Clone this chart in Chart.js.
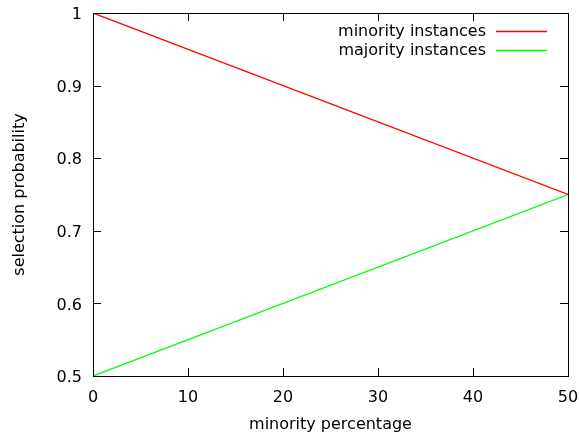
<!DOCTYPE html>
<html>
<head>
<meta charset="utf-8">
<script src="https://cdn.jsdelivr.net/npm/chart.js@4"></script>
<style>
  html, body { margin: 0; padding: 0; background: #fff; }
  #wrap { width: 580px; height: 437px; position: relative; }
</style>
</head>
<body>
<div id="wrap"><canvas id="chart"></canvas></div>
<script>
// values
var percentages = [0, 50];
var minority = [1, 0.75];
var majority = [0.5, 0.75];
var seriesNames = ['minority instances', 'majority instances'];
var seriesColors = ['#ff0000', '#00ff00'];
var xTicks = [0, 10, 20, 30, 40, 50];
var yTicks = [0.5, 0.6, 0.7, 0.8, 0.9, 1];

var FONT = 'DejaVu Sans';
var FS = 16;

function points(ys) {
    return percentages.map(function(x, i) { return {x: x, y: ys[i]}; });
}

// gnuplot-like frame: box plus inward ticks on all four sides, legend at top right
var framePlugin = {
    id: 'frame',
    afterDraw: function(chart) {
        var ctx = chart.ctx;
        var a = chart.chartArea;
        var xs = chart.scales.x, ys = chart.scales.y;
        var L = 8;
        ctx.save();
        ctx.strokeStyle = '#000';
        ctx.lineWidth = 1;
        ctx.beginPath();
        xTicks.forEach(function(t) {
            var px = Math.round(xs.getPixelForValue(t)) + 0.5;
            ctx.moveTo(px, a.bottom); ctx.lineTo(px, a.bottom - L);
            ctx.moveTo(px, a.top); ctx.lineTo(px, a.top + L);
        });
        yTicks.forEach(function(t) {
            var py = Math.round(ys.getPixelForValue(t)) + 0.5;
            ctx.moveTo(a.left, py); ctx.lineTo(a.left + L, py);
            ctx.moveTo(a.right, py); ctx.lineTo(a.right - L, py);
        });
        ctx.stroke();
        ctx.strokeRect(Math.round(a.left) + 0.5, Math.round(a.top) + 0.5,
                       Math.round(a.right - a.left), Math.round(a.bottom - a.top));

        // legend
        ctx.font = FS + 'px "' + FONT + '"';
        ctx.textAlign = 'right';
        ctx.textBaseline = 'middle';
        chart.data.datasets.forEach(function(ds, i) {
            var y = 31 + i * 19;
            ctx.fillStyle = '#000';
            ctx.fillText(ds.label, 486, y + 1);
            ctx.strokeStyle = ds.borderColor;
            ctx.lineWidth = 1.5;
            ctx.beginPath();
            ctx.moveTo(496, y + 0.5);
            ctx.lineTo(547, y + 0.5);
            ctx.stroke();
        });
        ctx.restore();
    }
};

new Chart(document.getElementById('chart'), {
    type: 'line',
    data: {
        datasets: [
            { label: seriesNames[0], data: points(minority), borderColor: seriesColors[0],
              borderWidth: 1.3, pointRadius: 0, fill: false, tension: 0 },
            { label: seriesNames[1], data: points(majority), borderColor: seriesColors[1],
              borderWidth: 1.3, pointRadius: 0, fill: false, tension: 0 }
        ]
    },
    options: {
        responsive: true,
        maintainAspectRatio: false,
        animation: false,
        layout: { padding: { top: 13, right: 12, left: 0, bottom: 0 } },
        plugins: { legend: { display: false }, tooltip: { enabled: false } },
        scales: {
            x: {
                type: 'linear',
                min: 0, max: 50,
                afterFit: function(s) { s.height = 61; s.paddingLeft = 0; s.paddingRight = 0; },
                afterBuildTicks: function(s) { s.ticks = xTicks.map(function(v) { return {value: v}; }); },
                grid: { display: false, drawTicks: false },
                border: { display: false },
                ticks: { color: '#000', padding: 12, maxRotation: 0,
                         font: { family: FONT, size: FS } },
                title: { display: true, text: 'minority percentage', color: '#000',
                         font: { family: FONT, size: FS }, padding: { top: 0, bottom: 3 } }
            },
            y: {
                type: 'linear',
                min: 0.5, max: 1,
                afterFit: function(s) { s.width = 93; s.paddingTop = 0; s.paddingBottom = 0; },
                afterBuildTicks: function(s) { s.ticks = yTicks.map(function(v) { return {value: v}; }); },
                grid: { display: false, drawTicks: false },
                border: { display: false },
                ticks: { color: '#000', padding: 11, labelOffset: 2,
                         font: { family: FONT, size: FS },
                         callback: function(v) { return String(+v.toFixed(1)); } },
                title: { display: true, text: 'selection probability', color: '#000',
                         font: { family: FONT, size: FS }, padding: { top: 10, bottom: 0 } }
            }
        }
    },
    plugins: [framePlugin]
});
</script>
</body>
</html>
